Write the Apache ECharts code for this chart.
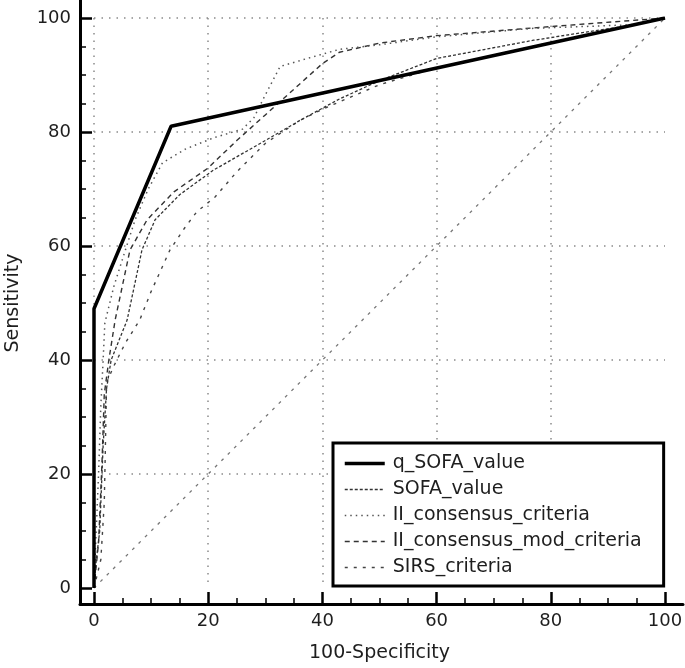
<!DOCTYPE html>
<html><head><meta charset="utf-8">
<script src="https://cdn.jsdelivr.net/npm/echarts@6/dist/echarts.min.js"></script>
<style>html,body{margin:0;padding:0;background:#fff}#c{width:685px;height:668px}</style>
</head><body><div id="c"></div>
<script>
// ---- data ----
const seriesNames = ['q_SOFA_value', 'SOFA_value', 'II_consensus_criteria', 'II_consensus_mod_criteria', 'SIRS_criteria'];
const tickValues = [0, 20, 40, 60, 80, 100];

const qSofaX = [0, 0, 13.5, 100];
const qSofaY = [0, 49, 81, 100];

const sofaX = [0, 0.3, 1, 1.6, 2.2, 3, 5.8, 8.4, 10.7, 15, 20.9, 30, 36, 43, 50, 60, 77, 94.4, 100];
const sofaY = [0, 4, 10, 25, 35, 40, 47, 59.3, 64.6, 69, 73.3, 78.5, 82, 85.8, 89, 92.9, 96.1, 98.8, 100];

const consX = [0, 0.3, 0.8, 1.2, 1.6, 1.9, 3.5, 5.5, 7.2, 9.5, 12, 16, 21, 26, 28, 30, 32.6, 37, 43, 50, 60, 77, 94, 100];
const consY = [0, 8, 20, 32, 40, 46.5, 53, 59.3, 64.6, 70, 74.6, 77, 79, 80.5, 82.5, 86.5, 91.5, 92.8, 94.5, 95.3, 96.7, 98.2, 98.8, 100];

const consModX = [0, 0.8, 1.4, 1.8, 2.6, 3.7, 6.3, 9.3, 14, 20, 25, 30, 35, 40, 43, 50, 60, 80, 100];
const consModY = [0, 8, 22, 34, 40, 47, 59.3, 64.6, 69.5, 73.7, 78.5, 83, 87.5, 92, 94, 95.6, 96.9, 98.5, 100];

const sirsX = [0, 1.2, 1.8, 2, 2.2, 3.4, 5.5, 8, 10, 13.3, 15.9, 18, 21.2, 25, 30, 36, 40, 50, 60, 80, 100];
const sirsY = [0, 5, 15, 25, 36, 38.8, 43, 47, 52, 59.3, 63.2, 66, 68.6, 73, 78, 82, 84, 88.3, 91.3, 95.7, 100];

const refX = [0, 100];
const refY = [0, 100];

// ---- styles (not data) ----
const FONT = 'DejaVu Sans';
const TXT = '#1e1e1e';
const styles = {
  'q_SOFA_value': {color: '#000', width: 3.5, type: 'solid'},
  'SOFA_value': {color: '#333', width: 1.3, type: [3, 2]},
  'II_consensus_criteria': {color: '#555', width: 1.5, type: [1.5, 4]},
  'II_consensus_mod_criteria': {color: '#333', width: 1.4, type: [5, 4]},
  'SIRS_criteria': {color: '#444', width: 1.4, type: [3, 6]}
};
const pairs = (xs, ys) => xs.map((x, i) => [x, ys[i]]);

const chart = echarts.init(document.getElementById('c'), null, {renderer: 'canvas'});

const mkSeries = (name, xs, ys, z) => ({
  name, type: 'line', xAxisIndex: 1, yAxisIndex: 1, data: pairs(xs, ys),
  symbol: 'none', z, itemStyle: {color: styles[name].color},
  lineStyle: Object.assign({}, styles[name])
});

const option = {
  animation: false,
  backgroundColor: '#fff',
  grid: [
    {left: 80, top: 0, right: 2, bottom: 64, containLabel: false, outerBoundsMode: 'none'},
    {left: 94, top: 18, width: 571, height: 570, containLabel: false, outerBoundsMode: 'none'}
  ],
  xAxis: [
    {gridIndex: 0, type: 'value', min: 0, max: 1,
     axisLine: {show: true, onZero: false, lineStyle: {color: '#000', width: 3}},
     axisTick: {show: false}, axisLabel: {show: false}, splitLine: {show: false}},
    {gridIndex: 1, type: 'value', min: 0, max: 100, interval: 20, offset: 16,
     name: '100-Specificity', nameLocation: 'middle', nameGap: 40,
     nameTextStyle: {fontFamily: FONT, fontSize: 19, color: TXT},
     axisLine: {show: false, onZero: false},
     axisTick: {show: true, inside: true, length: 12, lineStyle: {color: '#000', width: 2.5}},
     minorTick: {show: true, splitNumber: 4, length: 6, lineStyle: {color: '#000', width: 1.5}},
     axisLabel: {margin: 8, fontFamily: FONT, fontSize: 18, color: TXT},
     splitLine: {show: true, showMaxLine: false, lineStyle: {color: '#8a8a8a', width: 1.5, type: [1.5, 6]}}}
  ],
  yAxis: [
    {gridIndex: 0, type: 'value', min: 0, max: 1,
     axisLine: {show: true, onZero: false, lineStyle: {color: '#000', width: 3}},
     axisTick: {show: false}, axisLabel: {show: false}, splitLine: {show: false}},
    {gridIndex: 1, type: 'value', min: 0, max: 100, interval: 20, offset: 14,
     name: 'Sensitivity', nameLocation: 'middle', nameGap: 57,
     nameTextStyle: {fontFamily: FONT, fontSize: 19, color: TXT},
     axisLine: {show: false, onZero: false},
     axisTick: {show: true, inside: true, length: 12, lineStyle: {color: '#000', width: 2.5}},
     minorTick: {show: true, splitNumber: 4, length: 6, lineStyle: {color: '#000', width: 1.5}},
     axisLabel: {margin: 9, fontFamily: FONT, fontSize: 18, color: TXT},
     splitLine: {show: true, showMinLine: false, lineStyle: {color: '#8a8a8a', width: 1.5, type: [1.5, 6]}}}
  ],
  legend: {
    data: seriesNames.map(n => ({name: n, lineStyle: Object.assign({}, styles[n])})),
    orient: 'vertical',
    left: 333, top: 443,
    padding: [11, 22, 9, 10],
    itemGap: 7,
    itemWidth: 40, itemHeight: 14,
    borderColor: '#000', borderWidth: 3,
    backgroundColor: '#fff',
    itemStyle: {opacity: 0},
    textStyle: {fontFamily: FONT, fontSize: 19, color: TXT, lineHeight: 18, padding: [0, 0, 0, 3]},
    selectedMode: false
  },
  series: [
    {name: 'reference', type: 'line', xAxisIndex: 1, yAxisIndex: 1, data: pairs(refX, refY),
     symbol: 'none', silent: true, z: 1,
     lineStyle: {color: '#777', width: 1.3, type: [3, 6]}},
    mkSeries('SIRS_criteria', sirsX, sirsY, 2),
    mkSeries('II_consensus_mod_criteria', consModX, consModY, 2),
    mkSeries('II_consensus_criteria', consX, consY, 2),
    mkSeries('SOFA_value', sofaX, sofaY, 2),
    mkSeries('q_SOFA_value', qSofaX, qSofaY, 3)
  ]
};
chart.setOption(option);
</script>
</body></html>
